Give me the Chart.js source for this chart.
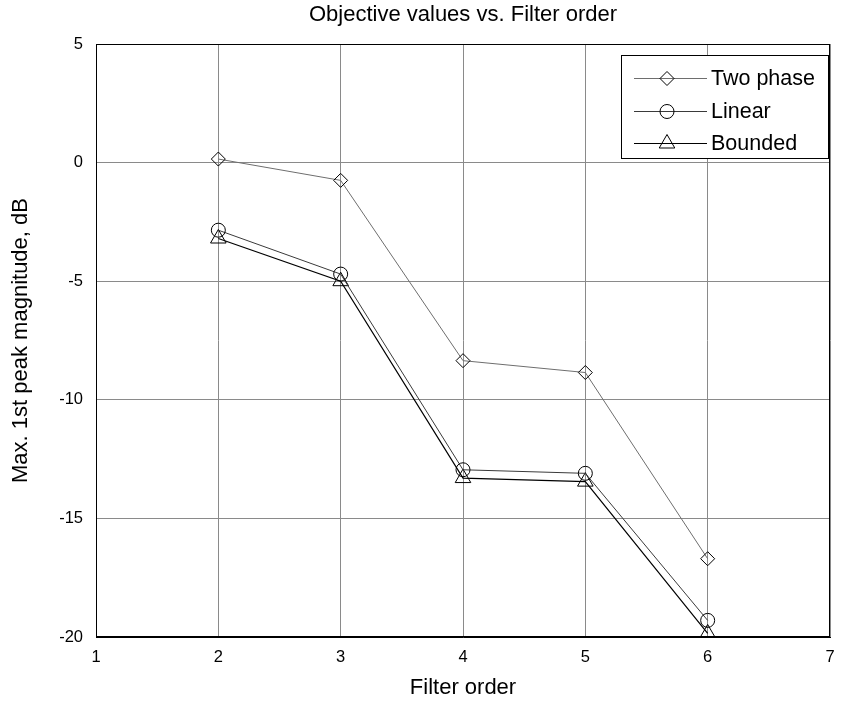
<!DOCTYPE html>
<html>
<head>
<meta charset="utf-8">
<script src="https://cdn.jsdelivr.net/npm/chart.js@4/dist/chart.umd.min.js"></script>
<style>
  html, body { margin: 0; padding: 0; background: #fff; }
  #wrap { width: 846px; height: 701px; }
</style>
</head>
<body>
<div id="wrap"><canvas id="c" width="846" height="701"></canvas></div>
<script>
// Filter orders on the x axis and the objective value of each method (dB)
const filterOrders = [2, 3, 4, 5, 6];
const twoPhase = [0.15, -0.75, -8.35, -8.85, -16.7];
const linear   = [-2.85, -4.7, -12.95, -13.1, -19.3];
const bounded  = [-3.2, -5.0, -13.3, -13.45, -19.85];
const seriesNames = ['Two phase', 'Linear', 'Bounded'];
const xTicks = [1, 2, 3, 4, 5, 6, 7];
const yTicks = [-20, -15, -10, -5, 0, 5];

const FONT = "'Liberation Sans', Arial, Helvetica, sans-serif";
const TEXT_SIZE = 22;
const LEGEND_SIZE = 21.5;
const TICK_SIZE = 16.5;
const toPoints = vals => vals.map((v, i) => ({ x: filterOrders[i], y: v }));

// Closed box around the plot area (top and right edges)
const boxPlugin = {
  id: 'box',
  afterDatasetsDraw(chart) {
    const { ctx, chartArea: a } = chart;
    ctx.save();
    ctx.strokeStyle = '#000';
    ctx.lineWidth = 1;
    ctx.strokeRect(Math.round(a.left) + 0.5, Math.round(a.top) + 0.5,
                   Math.round(a.right - a.left) - 1, Math.round(a.bottom - a.top) - 1);
    ctx.restore();
  }
};

// Boxed legend with a line sample running through each marker
const lineLegend = {
  id: 'lineLegend',
  afterDraw(chart) {
    const { ctx, chartArea: a } = chart;
    const right = a.right - 2, top = a.top + 11;
    const w = 207, h = 103;
    const left = right - w;
    ctx.save();
    ctx.fillStyle = '#fff';
    ctx.fillRect(left, top, w, h);
    ctx.strokeStyle = '#000';
    ctx.lineWidth = 1;
    ctx.strokeRect(Math.round(left) + 0.5, Math.round(top) + 0.5, w, h);
    chart.data.datasets.forEach((ds, i) => {
      const y = Math.round(top + 23 + i * 32.5) + 0.5;
      ctx.strokeStyle = ds.borderColor;
      ctx.lineWidth = ds.borderWidth;
      ctx.beginPath();
      ctx.moveTo(left + 13, y);
      ctx.lineTo(left + 86, y);
      ctx.stroke();
      ctx.strokeStyle = '#000';
      ctx.fillStyle = 'rgba(0,0,0,0)';
      ctx.lineWidth = 1;
      Chart.helpers.drawPoint(ctx, {
        pointStyle: ds.pointStyle, radius: ds.pointRadius, rotation: 0, borderWidth: 1
      }, left + 46, y);
      ctx.fillStyle = '#000';
      ctx.font = LEGEND_SIZE + 'px ' + FONT;
      ctx.textBaseline = 'middle';
      ctx.textAlign = 'left';
      ctx.fillText(ds.label, left + 90, y + 1);
    });
    ctx.restore();
  }
};

const commonSet = {
  fill: false,
  tension: 0,
  pointBackgroundColor: 'rgba(0,0,0,0)',
  pointBorderColor: '#000',
  pointBorderWidth: 1,
  pointHoverRadius: 7
};

new Chart(document.getElementById('c'), {
  type: 'line',
  data: {
    datasets: [
      Object.assign({}, commonSet, {
        label: seriesNames[0], data: toPoints(twoPhase),
        borderColor: '#6e6e6e', borderWidth: 1, pointStyle: 'rectRot', pointRadius: 7
      }),
      Object.assign({}, commonSet, {
        label: seriesNames[1], data: toPoints(linear),
        borderColor: '#3a3a3a', borderWidth: 1, pointStyle: 'circle', pointRadius: 7
      }),
      Object.assign({}, commonSet, {
        label: seriesNames[2], data: toPoints(bounded),
        borderColor: '#000', borderWidth: 1.2, pointStyle: 'triangle', pointRadius: 9
      })
    ]
  },
  options: {
    responsive: false,
    animation: false,
    devicePixelRatio: 1,
    layout: { padding: { left: 0, right: 16, top: 0, bottom: 0 } },
    plugins: {
      legend: { display: false },
      tooltip: { enabled: false },
      title: {
        display: true,
        fullSize: false,
        text: 'Objective values vs. Filter order',
        color: '#000',
        font: { family: FONT, size: TEXT_SIZE, weight: 'normal' },
        padding: { top: 2, bottom: 15.6 }
      }
    },
    scales: {
      x: {
        type: 'linear',
        min: xTicks[0], max: xTicks[xTicks.length - 1],
        afterBuildTicks: s => { s.ticks = xTicks.map(v => ({ value: v })); },
        afterFit: s => { s.height = 64; },
        grid: { color: '#8a8a8a', lineWidth: 1, drawTicks: false },
        border: { color: '#000', width: 1 },
        ticks: { color: '#000', padding: 11, font: { family: FONT, size: TICK_SIZE } },
        title: {
          display: true, text: 'Filter order', color: '#000',
          font: { family: FONT, size: TEXT_SIZE }, padding: { top: 4, bottom: 0 }
        }
      },
      y: {
        type: 'linear',
        min: yTicks[0], max: yTicks[yTicks.length - 1],
        afterBuildTicks: s => { s.ticks = yTicks.map(v => ({ value: v })); },
        afterFit: s => { s.width = 96; },
        grid: { color: '#8a8a8a', lineWidth: 1, drawTicks: false },
        border: { color: '#000', width: 1 },
        ticks: { color: '#000', padding: 13, font: { family: FONT, size: TICK_SIZE } },
        title: {
          display: true, text: 'Max. 1st peak magnitude, dB', color: '#000',
          font: { family: FONT, size: TEXT_SIZE }, padding: { top: 8, bottom: 4 }
        }
      }
    }
  },
  plugins: [boxPlugin, lineLegend]
});
</script>
</body>
</html>
